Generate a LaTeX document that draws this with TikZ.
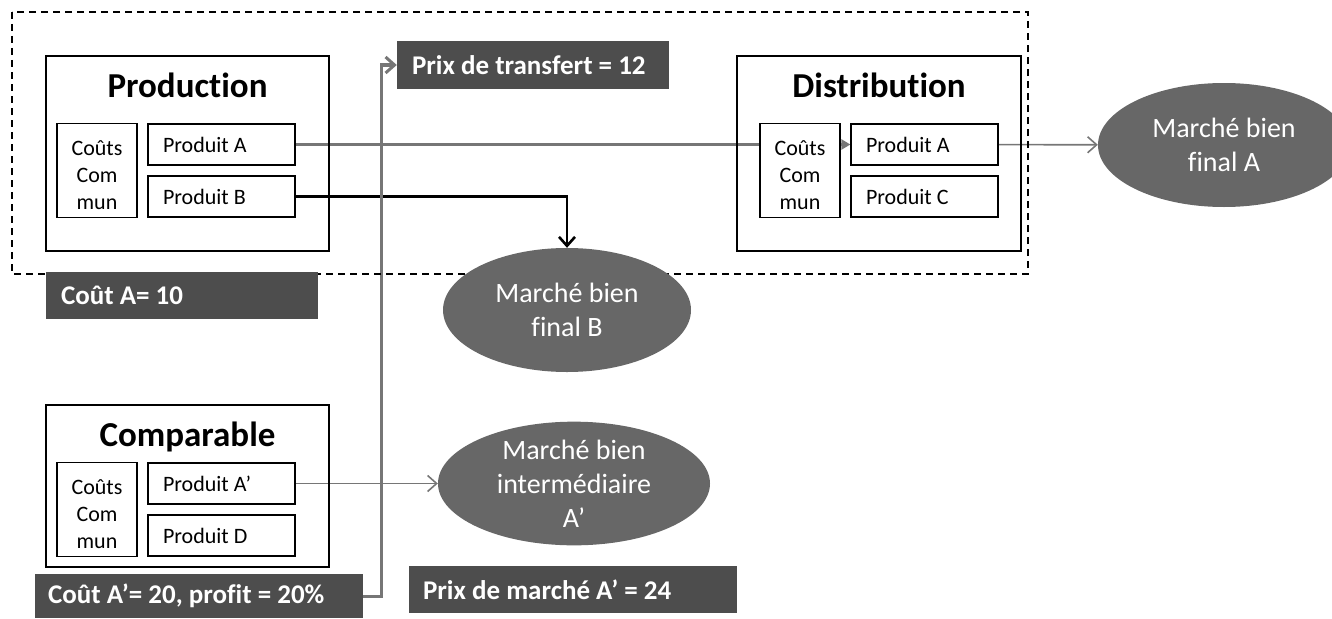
\documentclass[tikz,border=0pt]{standalone}
\usepackage{fontspec}
\setmainfont{Carlito}[Ligatures=NoCommon]
\usetikzlibrary{arrows.meta,shapes.geometric,backgrounds}

\definecolor{tagfill}{HTML}{4D4D4D}
\definecolor{mktfill}{HTML}{676767}
\definecolor{flowgray}{HTML}{767676}

% left-set text inside a fixed-width box
\newcommand{\lefttext}[2]{\makebox[#1pt][l]{#2}}
% three short centred lines, nudged down a little
\newcommand{\costlines}{\raisebox{-11.5pt}[0pt][0pt]{\begin{tabular}{@{}c@{}}Coûts\\Com\\mun\end{tabular}}}

\begin{document}
\begin{tikzpicture}[
  x=1pt, y=-1pt,
  >={Straight Barb[length=9pt,width=16pt]},
  firm/.style={draw,line width=1.2pt,inner sep=0},
  inbox/.style={draw,line width=1.2pt,fill=white,inner sep=0,font=\fontsize{22}{27}\selectfont},
  cc/.style={minimum width=80,minimum height=94},
  prd/.style={minimum width=147,minimum height=41},
  ttl/.style={anchor=base,font=\fontsize{35}{42}\selectfont\bfseries},
  mkt/.style={ellipse,fill=mktfill,text=white,inner sep=0,align=center,font=\fontsize{28}{34}\selectfont},
  pricetag/.style={fill=tagfill,text=white,inner sep=0,font=\fontsize{27}{32}\selectfont\bfseries},
  flowthick/.style={draw=flowgray,line width=3pt},
  flowthin/.style={draw=flowgray,line width=1.6pt},
  flowblack/.style={draw=black,line width=2.6pt},
]
  \useasboundingbox (0,0) rectangle (1332,618);

  % dashed group around production and distribution
  \draw[line width=1.3pt,dash pattern=on 7pt off 5pt] (12,12) rectangle (1028,274);

  \foreach \n/\bx/\by/\bw/\bh/\ttl/\ty/\cx/\ry/\pa/\pb in {%
      prod/187.5/153.5/283/195/Production/97/97/144.5/Produit A/Produit B,
      dist/879/153.5/284/195/Distribution/97/800/144.5/Produit A/Produit C,
      comp/187.5/486/283/162/Comparable/446/97/483.5/Produit A’/Produit D}
  {
    \node[firm,minimum width=\bw,minimum height=\bh] (\n) at (\bx,\by) {};
    \node[ttl] (\n-title) at (\bx,\ty) {\ttl};
    \node[inbox,cc] (\n-cc) at (\cx,\ry+26) {\costlines};
    \node[inbox,prd] (\n-a) at (\cx+124.5,\ry) {\lefttext{117}{\pa}};
    \node[inbox,prd] (\n-b) at (\cx+124.5,\ry+52) {\lefttext{117}{\pb}};
  }

  \node[mkt,minimum width=252,minimum height=124] (mktA) at (1224,145) {Marché bien\\final A};
  \node[mkt,minimum width=248,minimum height=124] (mktB) at (567,310) {Marché bien\\final B};
  \node[mkt,minimum width=272,minimum height=123] (mktI) at (574,483.5) {Marché bien\\intermédiaire\\A’};

  \node[pricetag,minimum width=272,minimum height=47] (costA) at (182,295.5) {\lefttext{242}{Coût A= 10}};
  \node[pricetag,minimum width=272,minimum height=48] (transfer) at (533,65) {\lefttext{242}{Prix de transfert = 12}};
  \node[pricetag,minimum width=328,minimum height=44] (costAp) at (199,596) {\lefttext{302}{Coût A’= 20, profit = 20\%}};
  \node[pricetag,minimum width=328,minimum height=47] (mktprice) at (573,589.5) {\lefttext{300}{Prix de marché A’ = 24}};

  \begin{pgfonlayer}{background}
    \draw[flowthick,-{Triangle[length=9pt,width=10pt]}] (prod-a) -- (dist-a);
    \draw[flowthin,->] (dist-a) -- (mktA);
    \draw[flowthin,->] (comp-a.east) -- (mktI.west);
    \draw[flowblack,->] (prod-b.east) -| (mktB.north);
    \draw[flowthick,->] (costAp.east) -- ++(18,0) |- (transfer.west);
  \end{pgfonlayer}
\end{tikzpicture}
\end{document}
